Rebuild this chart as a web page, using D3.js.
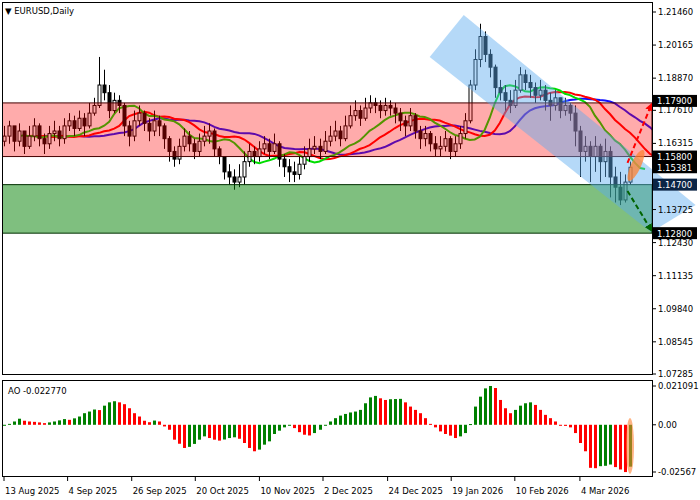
<!DOCTYPE html>
<html><head><meta charset="utf-8">
<script src="https://cdn.jsdelivr.net/npm/d3@7"></script>
<style>body{margin:0;background:#fff}svg{display:block;font-family:"DejaVu Sans",sans-serif}</style>
</head><body><svg id="c" width="700" height="500"></svg>
<script>
var closes = [1.166,1.170,1.164,1.168,1.162,1.166,1.170,1.165,1.163,1.167,
  1.168,1.165,1.170,1.172,1.169,1.173,1.170,1.175,1.178,1.186,
  1.183,1.176,1.180,1.178,1.170,1.166,1.172,1.175,1.171,1.168,
  1.172,1.170,1.165,1.160,1.157,1.162,1.166,1.163,1.160,1.164,
  1.166,1.168,1.161,1.158,1.152,1.150,1.148,1.150,1.156,1.160,
  1.158,1.161,1.163,1.160,1.163,1.157,1.154,1.152,1.151,1.155,
  1.158,1.161,1.162,1.160,1.164,1.166,1.168,1.165,1.170,1.174,
  1.176,1.173,1.177,1.179,1.178,1.176,1.178,1.177,1.175,1.172,
  1.170,1.174,1.168,1.165,1.167,1.163,1.161,1.162,1.165,1.160,
  1.163,1.167,1.172,1.186,1.196,1.205,1.198,1.193,1.185,1.183,
  1.180,1.178,1.184,1.190,1.187,1.185,1.182,1.184,1.180,1.178,
  1.181,1.176,1.178,1.175,1.168,1.160,1.162,1.158,1.162,1.156,
  1.160,1.150,1.146,1.141,1.148,1.1538];
var highs = [1.170,1.172,1.169,1.171,1.168,1.170,1.173,1.171,1.167,1.170,
  1.172,1.170,1.173,1.175,1.174,1.176,1.175,1.179,1.181,1.197,
  1.192,1.186,1.183,1.182,1.179,1.172,1.176,1.178,1.176,1.173,
  1.176,1.174,1.171,1.166,1.162,1.165,1.169,1.168,1.165,1.167,
  1.170,1.171,1.169,1.162,1.158,1.155,1.153,1.155,1.160,1.163,
  1.162,1.164,1.166,1.165,1.167,1.164,1.159,1.157,1.156,1.158,
  1.162,1.165,1.166,1.165,1.168,1.170,1.172,1.170,1.174,1.178,
  1.180,1.178,1.181,1.182,1.181,1.180,1.181,1.180,1.179,1.177,
  1.174,1.177,1.175,1.170,1.170,1.168,1.166,1.166,1.168,1.166,
  1.166,1.170,1.175,1.188,1.200,1.210,1.207,1.200,1.194,1.188,
  1.186,1.184,1.188,1.193,1.192,1.190,1.187,1.188,1.186,1.183,
  1.184,1.181,1.181,1.179,1.178,1.170,1.166,1.164,1.166,1.163,
  1.165,1.162,1.154,1.152,1.151,1.156];
var lows = [1.162,1.163,1.160,1.162,1.159,1.161,1.164,1.162,1.159,1.161,
  1.164,1.162,1.163,1.168,1.166,1.168,1.166,1.169,1.174,1.177,
  1.180,1.173,1.175,1.175,1.166,1.162,1.164,1.170,1.168,1.164,
  1.166,1.166,1.161,1.156,1.154,1.155,1.160,1.160,1.157,1.158,
  1.162,1.163,1.158,1.155,1.149,1.147,1.145,1.146,1.147,1.154,
  1.155,1.156,1.159,1.157,1.159,1.154,1.150,1.148,1.148,1.149,
  1.153,1.156,1.159,1.157,1.159,1.162,1.164,1.162,1.164,1.169,
  1.172,1.170,1.172,1.175,1.175,1.173,1.174,1.174,1.171,1.168,
  1.166,1.168,1.165,1.161,1.162,1.160,1.158,1.158,1.160,1.157,
  1.158,1.161,1.165,1.171,1.184,1.193,1.195,1.189,1.181,1.180,
  1.176,1.175,1.177,1.183,1.184,1.181,1.179,1.180,1.176,1.172,
  1.176,1.173,1.174,1.172,1.162,1.150,1.156,1.148,1.152,1.148,
  1.150,1.142,1.140,1.139,1.140,1.147];
// AO values, x1e-3
var aoVals = [-0.5,0.5,1.8,3.3,2.2,1.8,1.6,1.3,0.9,1.3,1.8,2.4,3.1,2.7,3.5,4.5,6.3,7.2,8.3,8.0,
  10.4,12.2,12.8,12.2,11.2,9.0,6.3,4.5,2.2,1.4,2.3,1.8,-0.9,-2.7,-8.1,-10.3,-12.6,-12.0,-10.4,-8.1,
  -6.3,-7.2,-8.1,-8.6,-8.0,-7.2,-6.8,-7.6,-9.9,-12.6,-14.4,-13.5,-10.8,-9.0,-5.0,-3.2,-1.4,-0.5,-1.8,-4.0,
  -5.4,-5.8,-4.5,-2.7,-0.4,1.8,3.6,5.0,5.9,6.7,7.2,8.1,11.7,14.9,15.7,14.4,13.5,13.9,14.0,14.1,
  12.2,9.9,8.1,6.3,3.6,0.5,-1.4,-3.6,-5.0,-5.9,-7.2,-6.3,-4.5,0.4,9.9,15.3,19.8,21.1,20.0,13.5,
  9.0,6.3,8.1,10.4,11.7,12.2,10.8,8.1,5.4,3.6,1.8,-0.4,-0.6,-1.4,-4.5,-9.9,-14.4,-23.4,-23.6,-22.5,
  -22.3,-21.6,-23.0,-24.3,-25.7,-22.77];
var priceTicks = [1.21460,1.20165,1.18870,1.17610,1.16315,1.13725,1.12430,1.11135,1.09840,1.08545,1.07285];
var dateLabels = ["13 Aug 2025","4 Sep 2025","26 Sep 2025","20 Oct 2025","10 Nov 2025","2 Dec 2025","24 Dec 2025","19 Jan 2026","10 Feb 2026","4 Mar 2026"];
var dateIdx = [0,12.7,25.5,38.2,51,63.7,76.6,89.3,102,115];
var levels = [{p:1.179,bg:"#000"},{p:1.158,bg:"#000"},{p:1.15381,bg:"#000"},{p:1.147,bg:"#0b2545"},{p:1.128,bg:"#000"}];
var channel = [[91.8,1.2134],[138.1,1.1390],[129.2,1.1284],[85.0,1.1970]];

var svg = d3.select("#c");
var N = closes.length;
var x = d3.scaleLinear().domain([0, N-1]).range([4, 630]);
var y = d3.scaleLinear().domain([1.07285, 1.21460]).range([374, 12]);
var ya = d3.scaleLinear().domain([-0.02567, 0.021091]).range([472, 386]);

svg.append("clipPath").attr("id","mc").append("rect").attr("x",2).attr("y",2).attr("width",650).attr("height",373);
var g = svg.append("g").attr("clip-path","url(#mc)");

// alligator (smoothed median)
var med = closes.map(function(c,i){ return (highs[i]+lows[i])/2; });
function smma(n, shift){
  var out = [], v = med[0];
  med.forEach(function(m,i){ v = i==0 ? m : (v*(n-1)+m)/n; out.push([i+shift, v]); });
  return out;
}
var line = d3.line().x(function(d){return x(d[0]);}).y(function(d){return y(d[1]);});
[[13,8,"#1010ff"],[8,5,"#ff0000"],[5,3,"#00dd00"]].forEach(function(a){
  g.append("path").attr("d", line(smma(a[0],a[1]))).attr("fill","none").attr("stroke",a[2]).attr("stroke-width",2);
});

// candles
closes.forEach(function(c,i){
  var o = i==0 ? closes[0]-0.002 : closes[i-1];
  var up = c >= o, cx = Math.round(x(i))+0.5;
  g.append("line").attr("x1",cx).attr("x2",cx).attr("y1",y(highs[i])).attr("y2",y(lows[i])).attr("stroke","#000");
  g.append("rect").attr("x",cx-1.5).attr("width",3)
    .attr("y",y(Math.max(o,c))).attr("height",Math.max(1,Math.abs(y(o)-y(c))))
    .attr("fill",up?"#fff":"#000").attr("stroke","#000").attr("stroke-width",1);
});

// zones
g.append("rect").attr("x",2).attr("width",650).attr("y",y(1.179)).attr("height",y(1.158)-y(1.179))
  .attr("fill","rgba(255,0,0,0.33)").attr("stroke","#400").attr("stroke-width",1);
g.append("rect").attr("x",2).attr("width",650).attr("y",y(1.147)).attr("height",y(1.128)-y(1.147))
  .attr("fill","rgba(0,128,0,0.5)").attr("stroke","#003000").attr("stroke-width",1);
svg.append("polygon").attr("points",channel.map(function(d){return x(d[0])+","+y(d[1]);}).join(" "))
  .attr("fill","rgba(90,170,240,0.45)");

// arrows
svg.append("defs").html('<marker id="ar" viewBox="0 0 10 10" refX="8" refY="5" markerWidth="4" markerHeight="4" orient="auto"><path d="M0,0L10,5L0,10z" fill="#f00"/></marker><marker id="ag" viewBox="0 0 10 10" refX="8" refY="5" markerWidth="4" markerHeight="4" orient="auto"><path d="M0,0L10,5L0,10z" fill="#006400"/></marker>');
svg.append("line").attr("x1",x(124.5)).attr("y1",y(1.1555)).attr("x2",x(129.3)).attr("y2",y(1.1785))
  .attr("stroke","#f00").attr("stroke-width",2).attr("stroke-dasharray","5,3").attr("marker-end","url(#ar)");
svg.append("line").attr("x1",x(124.5)).attr("y1",y(1.1445)).attr("x2",x(129.3)).attr("y2",y(1.1290))
  .attr("stroke","#006400").attr("stroke-width",2).attr("stroke-dasharray","5,3").attr("marker-end","url(#ag)");
svg.append("ellipse").attr("cx",x(126.2)).attr("cy",y(1.1545)).attr("rx",5).attr("ry",17)
  .attr("transform","rotate(25,"+x(126.2)+","+y(1.1545)+")").attr("fill","rgba(255,130,50,0.75)");

// AO
aoVals.forEach(function(v,i){
  var val = v/1000, prev = i==0 ? val : aoVals[i-1]/1000;
  svg.append("rect").attr("x",Math.round(x(i))-1).attr("width",3)
    .attr("y",Math.min(ya(val),ya(0))).attr("height",Math.max(1,Math.abs(ya(val)-ya(0))))
    .attr("fill", val >= prev ? "#008000" : "#ff0000");
});
svg.append("ellipse").attr("cx",x(N-1)).attr("cy",ya(-0.0115)).attr("rx",4).attr("ry",28).attr("fill","rgba(255,130,50,0.6)");

// frames
svg.append("rect").attr("x",2.5).attr("y",2.5).attr("width",650).attr("height",372).attr("fill","none").attr("stroke","#000");
svg.append("rect").attr("x",2.5).attr("y",380.5).attr("width",650).attr("height",96).attr("fill","none").attr("stroke","#000");

// price axis
var ax = svg.append("g").style("font-size","8.5px");
priceTicks.forEach(function(p){
  ax.append("line").attr("x1",652).attr("x2",656).attr("y1",y(p)).attr("y2",y(p)).attr("stroke","#000");
  ax.append("text").attr("x",658).attr("y",y(p)+3).text(p.toFixed(5));
});
levels.forEach(function(l){
  var ly = l.p == 1.179 ? y(l.p) - 2 : y(l.p);
  ax.append("rect").attr("x",653).attr("y",ly-6).attr("width",44).attr("height",12).attr("fill",l.bg);
  ax.append("text").attr("x",657).attr("y",ly+3.5).attr("fill","#fff").text(l.p.toFixed(5));
});
[[0.021091,"0.021091"],[0,"0.00"],[-0.02567,"-0.02567"]].forEach(function(t){
  ax.append("line").attr("x1",652).attr("x2",656).attr("y1",ya(t[0])).attr("y2",ya(t[0])).attr("stroke","#000");
  ax.append("text").attr("x",658).attr("y",ya(t[0])+3).text(t[1]);
});

// dates
dateIdx.forEach(function(d,i){
  var px = x(d);
  ax.append("line").attr("x1",px).attr("x2",px).attr("y1",477).attr("y2",481).attr("stroke","#000");
  ax.append("text").attr("x",px+1).attr("y",494).text(dateLabels[i]);
});
ax.append("text").attr("x",5).attr("y",14).text("\u25BC EURUSD,Daily");
ax.append("text").attr("x",8).attr("y",394).text("AO -0.022770");
</script></body></html>
